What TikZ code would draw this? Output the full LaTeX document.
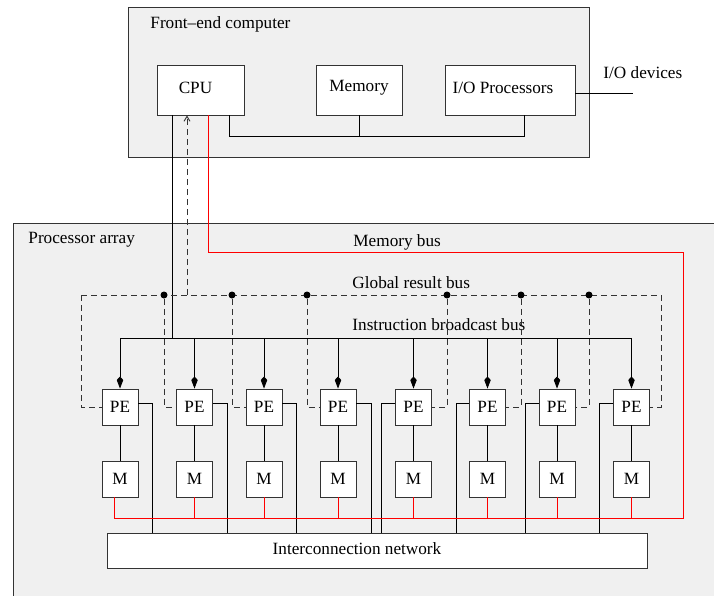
\documentclass[tikz,border=0pt]{standalone}
\usepackage{fontspec}
\setmainfont{Liberation Serif}
\usetikzlibrary{arrows.meta}
\definecolor{panel}{HTML}{F0F0F0}
\tikzset{
  >={Kite[length=12pt,width=6.5pt,inset=3.5pt]},
  bx/.style={draw=black!80,fill=white,minimum width=36pt,minimum height=36pt,inner sep=0pt},
  lbl/.style={anchor=west,inner sep=0pt},
  dt/.style={circle,fill,inner sep=0pt,minimum size=7pt},
  gbus/.style={dash pattern=on 6pt off 4pt,black!80},
  mbus/.style={red,line width=1pt},
  every picture/.style={line width=0.9pt},
}
\begin{document}
\begin{tikzpicture}[x=1pt,y=-1pt,font=\fontsize{17.2}{20}\selectfont]
\useasboundingbox (0,0) rectangle (714,596);
% processor array
\fill[panel] (13,223) rectangle (714,596); \draw[black!80] (13,596) |- (714,223);
\node[lbl] (pa) at (28,240) {Processor array};
% front-end computer
\node[draw=black!80,fill=panel,minimum width=461pt,minimum height=150pt,inner sep=0pt] (fe) at (358.5,82) {};
\node[lbl] (fet) at (150,24) {Front--end computer};
\node[bx,minimum width=87pt,minimum height=50pt,label={[xshift=-5pt,yshift=2pt]center:CPU}] (cpu) at (200.5,90) {};
\node[bx,minimum width=86pt,minimum height=50pt,label={[yshift=2pt]center:Memory}] (mem) at (359,90) {};
\node[bx,minimum width=130pt,minimum height=50pt,label={[xshift=-7pt,yshift=2pt]center:I/O Processors}] (iop) at (510,90) {};
\node[lbl] (iod) at (603,73) {I/O devices};
\coordinate (fb) at (229,136); \coordinate (ioe) at (633,93);
\draw (fb |- cpu.south) -- (fb) -| ([xshift=14pt]iop.south); \draw (mem) -- (mem |- fb);
\draw (ioe -| iop.east) -- (ioe);
% PEs, memories, network
\node[bx] (pe1) at (120,407) {PE}; \node[bx] (pe2) at (194.5,407) {PE}; \node[bx] (pe3) at (264,407) {PE}; \node[bx] (pe4) at (338,407) {PE};
\node[bx] (pe5) at (413.5,407) {PE}; \node[bx] (pe6) at (487.5,407) {PE}; \node[bx] (pe7) at (557,407) {PE}; \node[bx] (pe8) at (631.5,407) {PE};
\node[bx] (m1) at (120,479) {M}; \node[bx] (m2) at (194.5,479) {M}; \node[bx] (m3) at (264,479) {M}; \node[bx] (m4) at (338,479) {M};
\node[bx] (m5) at (413.5,479) {M}; \node[bx] (m6) at (487.5,479) {M}; \node[bx] (m7) at (557,479) {M}; \node[bx] (m8) at (631.5,479) {M};
\node[bx,minimum width=540pt,minimum height=35pt,label={[xshift=-20pt,yshift=2pt]center:Interconnection network}] (net) at (377,550.5) {};
\draw (pe1) -- (m1); \draw (pe2) -- (m2); \draw (pe3) -- (m3); \draw (pe4) -- (m4);
\draw (pe5) -- (m5); \draw (pe6) -- (m6); \draw (pe7) -- (m7); \draw (pe8) -- (m8);
\coordinate (n1) at (152,533); \coordinate (n2) at (227,533); \coordinate (n3) at (296,533); \coordinate (n4) at (371,533);
\coordinate (n5) at (381,533); \coordinate (n6) at (456,533); \coordinate (n7) at (525,533); \coordinate (n8) at (599,533);
\draw ([yshift=4pt]pe1.east) -| (n1); \draw ([yshift=4pt]pe2.east) -| (n2); \draw ([yshift=4pt]pe3.east) -| (n3); \draw ([yshift=4pt]pe4.east) -| (n4);
\draw ([yshift=4pt]pe5.west) -| (n5); \draw ([yshift=4pt]pe6.west) -| (n6); \draw ([yshift=4pt]pe7.west) -| (n7); \draw ([yshift=4pt]pe8.west) -| (n8);
% instruction broadcast bus
\coordinate (ib) at (172,338);
\node[lbl] (ibt) at (352,325) {Instruction broadcast bus};
\draw (ib |- cpu.south) -- (ib); \draw (pe1 |- ib) -- (pe8 |- ib);
\draw[->] (pe1 |- ib) -- (pe1); \draw[->] (pe2 |- ib) -- (pe2); \draw[->] (pe3 |- ib) -- (pe3); \draw[->] (pe4 |- ib) -- (pe4);
\draw[->] (pe5 |- ib) -- (pe5); \draw[->] (pe6 |- ib) -- (pe6); \draw[->] (pe7 |- ib) -- (pe7); \draw[->] (pe8 |- ib) -- (pe8);
% global result bus
\coordinate (g0) at (81,295); \coordinate (g9) at (661,295); \coordinate (gc) at (187,295);
\node[lbl] (grt) at (352,283) {Global result bus};
\draw[gbus] (g0) -- (g9);
\draw[gbus,-{Straight Barb[length=5pt,width=6pt]}] (gc) -- (gc |- cpu.south);
\node[dt] (d2) at (164,295) {}; \node[dt] (d3) at (232,295) {}; \node[dt] (d4) at (307,295) {};
\node[dt] (d5) at (447,295) {}; \node[dt] (d6) at (521,295) {}; \node[dt] (d7) at (589,295) {};
\draw[gbus] (g0) |- (pe1.west); \draw[gbus] (d2) |- (pe2.west); \draw[gbus] (d3) |- (pe3.west); \draw[gbus] (d4) |- (pe4.west);
\draw[gbus] (d5) |- (pe5.east); \draw[gbus] (d6) |- (pe6.east); \draw[gbus] (d7) |- (pe7.east); \draw[gbus] (g9) |- (pe8.east);
% memory bus
\coordinate (mb) at (208,252); \coordinate (mbr) at (683,252); \coordinate (mbl) at (114,518);
\node[lbl] (mbt) at (353,242) {Memory bus};
\draw[mbus] (mb |- cpu.south) |- (mbr) |- (mbl) -- (mbl |- m1.south);
\draw[mbus] (m2) -- (m2 |- mbl); \draw[mbus] (m3) -- (m3 |- mbl); \draw[mbus] (m4) -- (m4 |- mbl); \draw[mbus] (m5) -- (m5 |- mbl);
\draw[mbus] (m6) -- (m6 |- mbl); \draw[mbus] (m7) -- (m7 |- mbl); \draw[mbus] (m8) -- (m8 |- mbl);
\end{tikzpicture}
\end{document}
